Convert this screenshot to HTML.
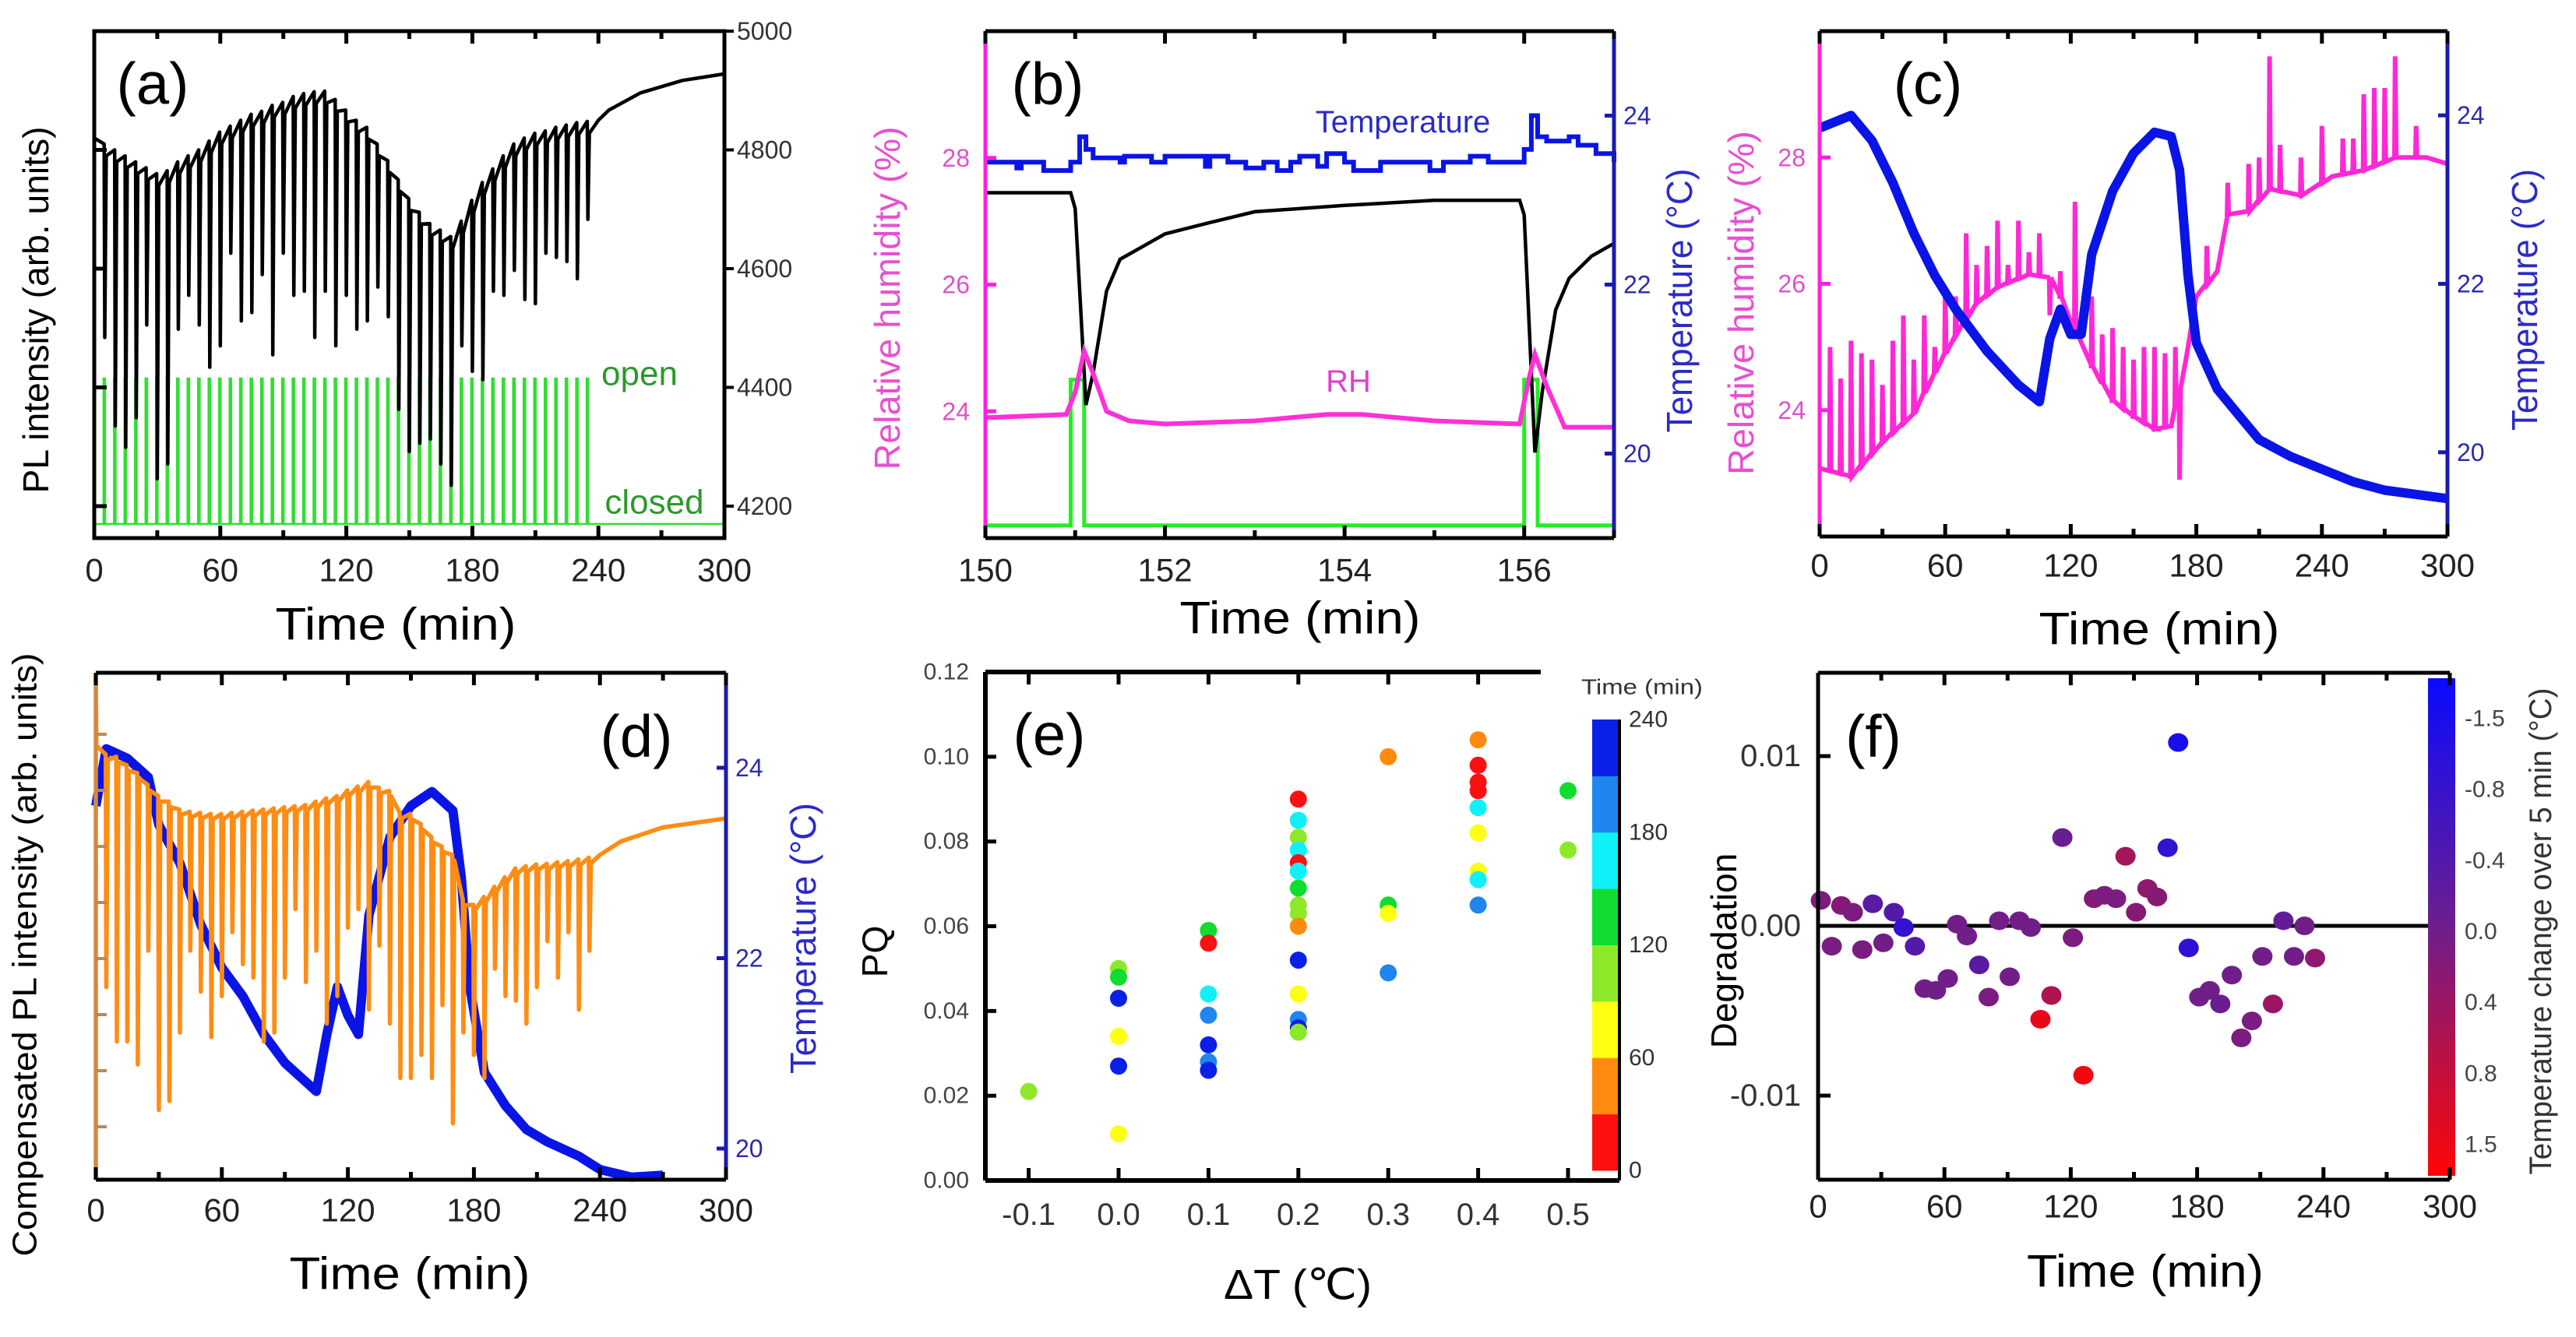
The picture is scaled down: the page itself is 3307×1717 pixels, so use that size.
<!DOCTYPE html>
<html><head><meta charset="utf-8"><style>
html,body{margin:0;padding:0;background:#fff;}
svg{display:block;font-family:"Liberation Sans",sans-serif;}
</style></head><body>
<svg id="fig" xmlns="http://www.w3.org/2000/svg" width="3307" height="1717" viewBox="0 0 3307 1717">
<rect x="0" y="0" width="3307" height="1717" fill="#fff"/>
<g id="pa"></g>
<g id="pb"></g>
<g id="pc"></g>
<g id="pd"></g>
<g id="pe"></g>
<g id="pf"></g>
<text x="196" y="108" font-size="76" text-anchor="middle" dominant-baseline="central">(a)</text>
<text x="1345" y="108" font-size="76" text-anchor="middle" dominant-baseline="central">(b)</text>
<text x="2475" y="108" font-size="76" text-anchor="middle" dominant-baseline="central">(c)</text>
<text x="817" y="946" font-size="76" text-anchor="middle" dominant-baseline="central">(d)</text>
<text x="1347" y="944" font-size="76" text-anchor="middle" dominant-baseline="central">(e)</text>
<text x="2405" y="946" font-size="76" text-anchor="middle" dominant-baseline="central">(f)</text>

<text x="508" y="802" font-size="58" text-anchor="middle" dominant-baseline="central" textLength="309" lengthAdjust="spacingAndGlyphs">Time (min)</text>
<text x="1669" y="794" font-size="58" text-anchor="middle" dominant-baseline="central" textLength="309" lengthAdjust="spacingAndGlyphs">Time (min)</text>
<text x="2772" y="808" font-size="58" text-anchor="middle" dominant-baseline="central" textLength="309" lengthAdjust="spacingAndGlyphs">Time (min)</text>
<text x="526" y="1636" font-size="58" text-anchor="middle" dominant-baseline="central" textLength="309" lengthAdjust="spacingAndGlyphs">Time (min)</text>
<text x="1666" y="1650" font-size="54" text-anchor="middle" dominant-baseline="central" textLength="190" lengthAdjust="spacingAndGlyphs">ΔT (℃)</text>
<text x="2754" y="1633" font-size="58" text-anchor="middle" dominant-baseline="central" textLength="304" lengthAdjust="spacingAndGlyphs">Time (min)</text>

<text transform="translate(46,398) rotate(-90)" font-size="46" text-anchor="middle" dominant-baseline="central" textLength="471" lengthAdjust="spacingAndGlyphs">PL intensity (arb. units)</text>
<text transform="translate(1139,383) rotate(-90)" font-size="46" fill="#e650d2" text-anchor="middle" dominant-baseline="central" textLength="441" lengthAdjust="spacingAndGlyphs">Relative humidity (%)</text>
<text transform="translate(2156,386) rotate(-90)" font-size="46" fill="#2a2ac8" text-anchor="middle" dominant-baseline="central" textLength="339" lengthAdjust="spacingAndGlyphs">Temperature (°C)</text>
<text transform="translate(2235,389) rotate(-90)" font-size="46" fill="#e650d2" text-anchor="middle" dominant-baseline="central" textLength="442" lengthAdjust="spacingAndGlyphs">Relative humidity (%)</text>
<text transform="translate(3241,385) rotate(-90)" font-size="46" fill="#2a2ac8" text-anchor="middle" dominant-baseline="central" textLength="336" lengthAdjust="spacingAndGlyphs">Temperature (°C)</text>
<text transform="translate(32,1226) rotate(-90)" font-size="44" text-anchor="middle" dominant-baseline="central" textLength="775" lengthAdjust="spacingAndGlyphs">Compensated PL intensity (arb. units)</text>
<text transform="translate(1031,1205) rotate(-90)" font-size="46" fill="#2a2ac8" text-anchor="middle" dominant-baseline="central" textLength="348" lengthAdjust="spacingAndGlyphs">Temperature (°C)</text>
<text transform="translate(1123,1222) rotate(-90)" font-size="46" text-anchor="middle" dominant-baseline="central">PQ</text>
<text transform="translate(2213,1221) rotate(-90)" font-size="46" text-anchor="middle" dominant-baseline="central">Degradation</text>
<text transform="translate(3262,1196) rotate(-90)" font-size="40" fill="#333" text-anchor="middle" dominant-baseline="central" textLength="625" lengthAdjust="spacingAndGlyphs">Temperature change over 5 min (°C)</text>
<text x="2108" y="882" font-size="28" fill="#333" text-anchor="middle" dominant-baseline="central" textLength="156" lengthAdjust="spacingAndGlyphs">Time (min)</text>

<text x="821" y="480" font-size="44" fill="#2a9a2a" text-anchor="middle" dominant-baseline="central">open</text>
<text x="840" y="645" font-size="44" fill="#2a9a2a" text-anchor="middle" dominant-baseline="central">closed</text>
<text x="1801" y="157" font-size="40" fill="#2a2ac8" text-anchor="middle" dominant-baseline="central">Temperature</text>
<text x="1731" y="490" font-size="40" fill="#e040c8" text-anchor="middle" dominant-baseline="central">RH</text>
</svg>
<script>
// ================= DATA =================
// Panel (a)
const aCycleT = [5,10,15,20,25,30,35,40,45,50,55,60,65,70,75,80,85,90,95,100,105,110,115,120,125,130,135,140,145,150,155,160,165,170,175,180,185,190,195,200,205,210,215,220,225,230,235];
const aPeak = [4810,4800,4790,4780,4770,4760,4765,4780,4790,4800,4815,4830,4840,4850,4860,4865,4875,4880,4890,4895,4898,4899,4885,4867,4850,4838,4810,4782,4750,4718,4695,4676,4665,4654,4680,4715,4745,4768,4790,4810,4820,4828,4832,4838,4842,4846,4848];
const aDip = [4484,4335,4299,4349,4505,4246,4271,4498,4555,4505,4434,4470,4626,4512,4526,4590,4455,4626,4555,4562,4484,4562,4470,4555,4498,4512,4569,4519,4363,4292,4306,4313,4271,4235,4470,4427,4413,4562,4555,4597,4548,4541,4626,4619,4612,4583,4683];
const aTailT = [0,240,245,260,280,300];
const aTailV = [4820,4850,4867,4896,4917,4928];
const aRightTicks = [4200,4400,4600,4800,5000];
const shutterLevels = [4170,4415];

// Panel (b)
const bTempT = [150,150.35,150.4,150.65,150.95,151.05,151.12,151.2,151.5,151.55,151.85,152.0,152.45,152.5,152.7,152.9,153.1,153.25,153.4,153.5,153.7,153.8,154.0,154.1,154.4,154.7,154.95,155.1,155.4,155.6,155.9,156.0,156.08,156.15,156.25,156.5,156.6,156.8,157];
const bTempV = [23.45,23.38,23.45,23.35,23.45,23.75,23.6,23.5,23.45,23.52,23.45,23.52,23.4,23.52,23.45,23.38,23.45,23.35,23.45,23.52,23.4,23.55,23.45,23.35,23.45,23.45,23.35,23.45,23.52,23.45,23.45,23.6,24.0,23.75,23.7,23.75,23.65,23.55,23.45];
const bPLT = [150,150.95,151.0,151.12,151.2,151.35,151.5,151.75,152,152.5,153,154,155,155.95,156.0,156.12,156.2,156.35,156.5,156.75,157];
const bPLV = [27.45,27.45,27.2,24.1,24.6,25.9,26.4,26.6,26.8,26.98,27.15,27.25,27.33,27.33,27.1,23.35,24.3,25.6,26.1,26.45,26.65];
const bRHT = [150,150.9,151.0,151.1,151.2,151.35,151.6,152,153,153.8,154.2,155,155.95,156.05,156.12,156.25,156.45,157];
const bRHV = [23.9,23.95,24.3,24.95,24.6,24.0,23.85,23.8,23.85,23.95,23.95,23.85,23.8,24.5,24.9,24.4,23.75,23.75];
const bOpenStart = [150.95,156.0];
const bOpenEnd = [151.1,156.15];
const bShutter = [22.2,24.5];
const bXTicks = [150,152,154,156];
const rhTicks = [24,26,28];
const tempTicks = [20,22,24];

// Panel (c)
const cTempT = [0,15,25,35,45,55,65,80,95,105,110,115,120,125,130,140,150,160,168,172,176,180,190,200,210,225,240,255,270,285,300];
const cTempV = [23.85,24.0,23.7,23.2,22.6,22.1,21.7,21.2,20.8,20.6,21.35,21.7,21.4,21.4,22.35,23.1,23.55,23.8,23.75,23.35,22.1,21.3,20.75,20.45,20.15,19.95,19.8,19.65,19.55,19.5,19.45];
const cRHT = [0,15,30,45,55,65,75,85,100,110,115,120,130,140,150,160,168,175,180,190,195,205,215,230,245,260,275,290,300];
const cRHV = [23.08,22.95,23.5,23.95,24.6,25.2,25.7,25.95,26.15,26.1,25.8,25.4,24.7,24.15,23.9,23.7,23.75,24.8,25.8,26.2,27.1,27.15,27.5,27.4,27.7,27.8,28.0,28.0,27.9];
const cSpikeT = [5,10,15,20,25,30,35,40,45,50,55,60,65,70,75,80,85,90,95,100,105,110,115,122,130,135,140,145,150,155,160,165,170,172,185,195,205,210,215,220,230,240,250,255,260,265,270,275,285];
const cSpikeV = [25.0,24.5,25.1,24.9,24.8,24.4,25.1,25.5,24.8,25.5,25.0,25.9,25.8,26.8,26.3,26.6,27.0,26.3,27.0,26.5,26.8,25.5,26.2,27.3,25.8,25.2,25.3,25.0,24.8,25.0,25.0,24.9,25.0,22.9,26.6,27.6,27.9,28.0,29.6,28.2,28.0,28.5,28.3,28.3,29.0,29.1,29.1,29.6,28.5];
const timeTicks = [0,60,120,180,240,300];

// Panel (d)
const dPeak = [7.64,7.6,7.45,7.31,7.1,6.9,6.8,6.66,6.62,6.6,6.58,6.58,6.6,6.62,6.64,6.66,6.68,6.7,6.72,6.74,6.8,6.86,6.9,7.0,7.07,7.15,7.05,6.99,6.6,6.58,6.4,6.17,6.0,5.85,5.05,4.96,5.1,5.28,5.45,5.61,5.65,5.68,5.69,5.72,5.74,5.77,5.8];
const dDip = [3.49,2.52,2.52,2.11,4.14,1.3,1.46,2.68,4.14,3.41,2.6,3.33,4.47,3.9,3.66,2.52,2.68,3.66,4.88,3.58,4.14,2.84,3.33,4.55,4.88,3.09,4.23,2.84,1.87,1.87,2.28,1.87,3.17,1.06,2.68,2.28,1.87,3.82,3.33,3.25,2.84,3.49,4.31,3.66,4.47,3.09,4.14];
const dTailT = [0,240,250,270,300];
const dTailV = [7.8,5.85,6.09,6.34,6.5];
const dTempT = [0,5,15,25,30,40,50,60,70,80,90,100,105,110,115,120,125,130,140,150,160,170,174,178,185,195,205,215,230,240,255,270];
const dTempV = [23.6,24.2,24.1,23.9,23.4,23.0,22.35,21.9,21.6,21.2,20.9,20.7,20.6,21.2,21.7,21.4,21.2,22.45,23.27,23.6,23.75,23.55,22.85,21.7,20.8,20.45,20.2,20.07,19.92,19.78,19.7,19.72];
const dLeftTicks = [1,2,3,4,5,6,7,8];
const dTempTicks = [20,22,24];

// Panel (e)
const eDT = [-0.1, 0,0,0,0,0,0, 0.1,0.1,0.1,0.1,0.1,0.1,0.1, 0.2,0.2,0.2,0.2,0.2,0.2,0.2,0.2,0.2,0.2,0.2,0.2,0.2,0.2,0.2, 0.3,0.3,0.3,0.3, 0.4,0.4,0.4,0.4,0.4,0.4,0.4,0.4,0.4, 0.5,0.5];
const ePQ = [0.021, 0.050,0.048,0.043,0.034,0.027,0.011, 0.059,0.056,0.044,0.039,0.032,0.028,0.026, 0.090,0.085,0.081,0.078,0.075,0.073,0.069,0.065,0.063,0.060,0.052,0.044,0.038,0.036,0.035, 0.100,0.065,0.063,0.049, 0.104,0.098,0.094,0.092,0.088,0.082,0.073,0.071,0.065, 0.092,0.078];
const eTime = [105, 105,135,225,75,225,75, 135,15,165,195,225,195,225, 15,165,105,165,15,165,135,105,105,45,225,75,195,225,105, 45,135,75,195, 45,15,15,15,165,75,75,165,195, 135,105];
const eXTicks = [-0.1,0.0,0.1,0.2,0.3,0.4,0.5];
const eYTicks = [0.00,0.02,0.04,0.06,0.08,0.10,0.12];
const eCbTicks = [0,60,120,180,240];
const eBandColors = ['#ff1010','#ff8a10','#ffff10','#8ee82a','#10dd30','#10f0f8','#1e86ee','#0a20e6'];

// Panel (f)
const fT = [1.3,6.5,11,16.5,21,26,31,36,40.6,46,50.6,56,61.6,66,70.7,76.5,81,86,91,95.6,101,105.6,110.8,116,121,126,131,136,141.5,146,151,156.4,161,166,171,176,181,186,191,196.5,201,206,211,216,221,226,231,236];
const fDeg = [0.0015,-0.0012,0.0012,0.0008,-0.0014,0.0013,-0.0010,0.0008,-0.0001,-0.0012,-0.0037,-0.0038,-0.0031,0.0001,-0.0006,-0.0023,-0.0042,0.0003,-0.0030,0.0003,-0.0001,-0.0055,-0.0041,0.0052,-0.0007,-0.0088,0.0016,0.0018,0.0016,0.0041,0.0008,0.0022,0.0017,0.0046,0.0108,-0.0013,-0.0042,-0.0038,-0.0046,-0.0029,-0.0066,-0.0056,-0.0018,-0.0046,0.0003,-0.0018,0.0000,-0.0019];
const fTC = [0.1,0.1,0.2,0.1,0.1,-0.3,0,-0.4,-0.9,-0.4,0,0,0,0,0,-0.3,0.1,0,0,0,0,1.4,0.6,-0.1,0.1,1.6,0.2,0.1,0.1,0.5,0.2,0.3,0.2,-0.9,-1.5,-1.0,0,0,-0.1,0,0.1,0.1,0,0.4,-0.2,0,0,0.3];
const fYTicks = [-0.01,0.00,0.01];
const fYTickLabels = ['-0.01','0.00','0.01'];
const fCbTicks = [-1.5,-0.8,-0.4,0.0,0.4,0.8,1.5];
const fCbTickLabels = ['-1.5','-0.8','-0.4','0.0','0.4','0.8','1.5'];

// ================= HELPERS =================
const NS = 'http://www.w3.org/2000/svg';
function mk(tag, attrs, parent){ const e=document.createElementNS(NS,tag); for(const k in attrs) e.setAttribute(k,attrs[k]); parent.appendChild(e); return e; }
function lin(d0,d1,r0,r1){ return v => r0 + (v-d0)*(r1-r0)/(d1-d0); }
function pathOf(pts){ return pts.map((p,i)=>(i?'L':'M')+p[0].toFixed(1)+' '+p[1].toFixed(1)).join(''); }
function interp(ts, vs, t){ if(t<=ts[0]) return vs[0]; for(let i=1;i<ts.length;i++){ if(t<=ts[i]){ const f=(t-ts[i-1])/(ts[i]-ts[i-1]); return vs[i-1]+f*(vs[i]-vs[i-1]); } } return vs[vs.length-1]; }
function tickLabel(g, x, y, txt, size, fill, anchor){ const t=mk('text',{x:x,y:y,'font-size':size,fill:fill,'text-anchor':anchor,'dominant-baseline':'central'},g); t.textContent=txt; return t; }

const pa=document.getElementById('pa'), pb=document.getElementById('pb'), pc=document.getElementById('pc'),
      pd=document.getElementById('pd'), pe=document.getElementById('pe'), pf=document.getElementById('pf');

function timeAxis(g, sx, y0, y1, ticks, minorStep, lo, hi, labelY, name){
  for(let v=lo; v<=hi+1e-9; v+=minorStep){
    const major = ticks.some(t=>Math.abs(t-v)<1e-6);
    const L = major?16:10;
    const b=mk('line',{x1:sx(v),x2:sx(v),y1:y1,y2:y1-L,stroke:'#000','stroke-width':5},g);
    
    
    const t=mk('line',{x1:sx(v),x2:sx(v),y1:y0,y2:y0+L,stroke:'#000','stroke-width':5},g);
    
    
  }
  ticks.forEach(v=>{
    const l=tickLabel(g, sx(v), labelY, String(v), 42, '#222', 'middle');
    
    
  });
}

// ================= PANEL A =================
(function(){
  const X0=121,X1=930,Y0=40,Y1=691;
  const sx=lin(0,300,X0,X1), sy=lin(4200,5000,650,40);
  let sp=[[sx(0),sy(shutterLevels[0])]];
  aCycleT.forEach(t=>{
    sp.push([sx(t-0.6),sy(shutterLevels[0])]); sp.push([sx(t-0.6),sy(shutterLevels[1])]);
    sp.push([sx(t+0.2),sy(shutterLevels[1])]); sp.push([sx(t+0.2),sy(shutterLevels[0])]);
  });
  sp.push([sx(300),sy(shutterLevels[0])]);
  const sh=mk('path',{d:pathOf(sp),fill:'none',stroke:'#33dd33','stroke-width':2.5},pa);
  
  
  let pts=[[sx(aTailT[0]),sy(aTailV[0])]];
  aCycleT.forEach((t,i)=>{
    pts.push([sx(t-0.3),sy(aPeak[i])]);
    pts.push([sx(t),sy(aDip[i])]);
    pts.push([sx(t+0.7),sy(aPeak[i]-20)]);
  });
  for(let i=1;i<aTailT.length;i++) pts.push([sx(aTailT[i]),sy(aTailV[i])]);
  const pl=mk('path',{d:pathOf(pts),fill:'none',stroke:'#000','stroke-width':4.5,'stroke-linejoin':'round'},pa);
  
  
  const fr=mk('rect',{x:X0,y:Y0,width:X1-X0,height:Y1-Y0,fill:'none',stroke:'#000','stroke-width':5},pa);
  
  
  timeAxis(pa,sx,Y0,Y1,timeTicks,30,0,300,732,'a');
  aRightTicks.forEach(v=>{
    const t=mk('line',{x1:X1,x2:X1+12,y1:sy(v),y2:sy(v),stroke:'#000','stroke-width':4},pa);
    
    
    if(v<5000){ const li=mk('line',{x1:X0,x2:X0+16,y1:sy(v),y2:sy(v),stroke:'#000','stroke-width':5},pa);
      
       }
    const l=tickLabel(pa,X1+16,sy(v),String(v),32,'#333','start');
    
    
  });
})();

// ================= PANEL B =================
(function(){
  const X0=1265,X1=2072,Y0=40,Y1=691;
  const sx=lin(150,157,X0,X1), sr=lin(22,30,Y1,Y0), st=lin(19,25,Y1,Y0);
  let sp=[[sx(150),sr(bShutter[0])]];
  bOpenStart.forEach((s,i)=>{ sp.push([sx(s),sr(bShutter[0])],[sx(s),sr(bShutter[1])],[sx(bOpenEnd[i]),sr(bShutter[1])],[sx(bOpenEnd[i]),sr(bShutter[0])]); });
  sp.push([sx(157),sr(bShutter[0])]);
  const sh=mk('path',{d:pathOf(sp),fill:'none',stroke:'#22ee22','stroke-width':5},pb);
  
  
  const pl=mk('path',{d:pathOf(bPLT.map((t,i)=>[sx(t),sr(bPLV[i])])),fill:'none',stroke:'#000','stroke-width':4.5},pb);
  
  
  const rh=mk('path',{d:pathOf(bRHT.map((t,i)=>[sx(t),sr(bRHV[i])])),fill:'none',stroke:'#ff30d8','stroke-width':6},pb);
  
  
  let tp=[];
  bTempT.forEach((t,i)=>{ if(i>0) tp.push([sx(t),st(bTempV[i-1])]); tp.push([sx(t),st(bTempV[i])]); });
  const tl=mk('path',{d:pathOf(tp),fill:'none',stroke:'#0a14e6','stroke-width':6},pb);
  
  
  const top=mk('line',{x1:X0,x2:X1,y1:Y0,y2:Y0,stroke:'#000','stroke-width':5},pb);
   
  const bot=mk('line',{x1:X0,x2:X1,y1:Y1,y2:Y1,stroke:'#000','stroke-width':5},pb);
   
  const la=mk('line',{x1:X0,x2:X0,y1:Y0,y2:Y1,stroke:'#ff20e0','stroke-width':5},pb);
   
  const ra=mk('line',{x1:X1,x2:X1,y1:Y0,y2:Y1,stroke:'#1a1ab0','stroke-width':5},pb);
   
  timeAxis(pb,sx,Y0,Y1,bXTicks,1,150,157,732,'b');
  rhTicks.forEach(v=>{
    const t=mk('line',{x1:X0,x2:X0+14,y1:sr(v),y2:sr(v),stroke:'#ff20e0','stroke-width':5},pb);
     
    const l=tickLabel(pb,X0-20,sr(v),String(v),32,'#e050c8','end');
     
  });
  tempTicks.forEach(v=>{
    const t=mk('line',{x1:X1-12,x2:X1,y1:st(v),y2:st(v),stroke:'#1a1ab0','stroke-width':5},pb);
     
    const l=tickLabel(pb,X1+12,st(v),String(v),32,'#2a2ab0','start');
     
  });
})();

// ================= PANEL C =================
(function(){
  const X0=2336,X1=3142,Y0=40,Y1=689;
  const sx=lin(0,300,X0,X1), sr=lin(22,30,Y1,Y0), st=lin(19,25,Y1,Y0);
  let pts=[]; let si=0;
  cRHT.forEach((t,i)=>{
    while(si<cSpikeT.length && cSpikeT[si]<t){
      const ts=cSpikeT[si], b=interp(cRHT,cRHV,ts);
      pts.push([sx(ts-0.3),sr(b)],[sx(ts),sr(cSpikeV[si])],[sx(ts+0.5),sr(b)]); si++;
    }
    pts.push([sx(t),sr(cRHV[i])]);
  });
  const rh=mk('path',{d:pathOf(pts),fill:'none',stroke:'#ff28d6','stroke-width':6},pc);
   
  const tl=mk('path',{d:pathOf(cTempT.map((t,i)=>[sx(t),st(cTempV[i])])),fill:'none',stroke:'#0a14e6','stroke-width':12,'stroke-linejoin':'round'},pc);
   
  const top=mk('line',{x1:X0,x2:X1,y1:Y0,y2:Y0,stroke:'#000','stroke-width':5},pc);
   
  const bot=mk('line',{x1:X0,x2:X1,y1:Y1,y2:Y1,stroke:'#000','stroke-width':5},pc);
   
  const la=mk('line',{x1:X0,x2:X0,y1:Y0,y2:Y1,stroke:'#ff20e0','stroke-width':5},pc);
   
  const ra=mk('line',{x1:X1,x2:X1,y1:Y0,y2:Y1,stroke:'#1a1ab0','stroke-width':5},pc);
   
  timeAxis(pc,sx,Y0,Y1,timeTicks,30,0,300,726,'c');
  rhTicks.forEach(v=>{
    const t=mk('line',{x1:X0,x2:X0+14,y1:sr(v),y2:sr(v),stroke:'#ff20e0','stroke-width':5},pc);
     
    const l=tickLabel(pc,X0-18,sr(v),String(v),32,'#e050c8','end');
     
  });
  tempTicks.forEach(v=>{
    const t=mk('line',{x1:X1-12,x2:X1,y1:st(v),y2:st(v),stroke:'#1a1ab0','stroke-width':5},pc);
     
    const l=tickLabel(pc,X1+12,st(v),String(v),32,'#2a2ab0','start');
     
  });
})();

// ================= PANEL D =================
(function(){
  const X0=123,X1=932,Y0=864,Y1=1515;
  const sx=lin(0,300,X0,X1), sl=lin(1,8,1447,943), st=lin(20,24,1475,986);
  const tl=mk('path',{d:pathOf(dTempT.map((t,i)=>[sx(t),st(dTempV[i])])),fill:'none',stroke:'#0a14e6','stroke-width':12,'stroke-linejoin':'round'},pd);
   
  let pts=[[sx(0),Y1],[sx(0),Y0+4],[sx(0.3),sl(dTailV[0])]];
  aCycleT.forEach((t,i)=>{
    pts.push([sx(t-0.3),sl(dPeak[i])]);
    pts.push([sx(t),sl(dDip[i])]);
    pts.push([sx(t+0.7),sl(dPeak[i]-0.1)]);
  });
  for(let i=1;i<dTailT.length;i++) pts.push([sx(dTailT[i]),sl(dTailV[i])]);
  const ol=mk('path',{d:pathOf(pts),fill:'none',stroke:'#ff8c14','stroke-width':5.5,'stroke-linejoin':'round'},pd);
   
  const top=mk('line',{x1:X0,x2:X1,y1:Y0,y2:Y0,stroke:'#000','stroke-width':5},pd);
   
  const bot=mk('line',{x1:X0,x2:X1,y1:Y1,y2:Y1,stroke:'#000','stroke-width':5},pd);
   
  const la=mk('line',{x1:X0,x2:X0,y1:Y0,y2:Y1,stroke:'#d08a40','stroke-width':5},pd);
   
  const ra=mk('line',{x1:X1,x2:X1,y1:Y0,y2:Y1,stroke:'#1a1ab0','stroke-width':5},pd);
   
  timeAxis(pd,sx,Y0,Y1,timeTicks,30,0,300,1554,'d');
  dLeftTicks.forEach(v=>{
    const t=mk('line',{x1:X0,x2:X0+14,y1:sl(v),y2:sl(v),stroke:'#c08850','stroke-width':4},pd);
     
  });
  dTempTicks.forEach(v=>{
    const t=mk('line',{x1:X1-12,x2:X1,y1:st(v),y2:st(v),stroke:'#1a1ab0','stroke-width':5},pd);
     
    const l=tickLabel(pd,X1+12,st(v),String(v),32,'#2a2ab0','start');
     
  });
})();

// ================= PANEL E =================
(function(){
  const X0=1265,Y0=863,Y1=1516;
  const sx=lin(0,0.5,1436,2013), sy=lin(0,0.12,Y1,Y0);
  const cbY=lin(0,240,1503,924);
  eBandColors.forEach((c,i)=>{
    const r=mk('rect',{x:2044,y:cbY((i+1)*30),width:33,height:cbY(i*30)-cbY((i+1)*30)+0.5,fill:c},pe);
     
  });
  eCbTicks.forEach(v=>{
    const l=tickLabel(pe,2091,cbY(v),String(v),30,'#333','start');
     
  });
  const cbt=mk('line',{x1:2079,x2:2079,y1:924,y2:1516,stroke:'#000','stroke-width':4},pe);
   
  eDT.forEach((d,i)=>{
    const band=Math.min(7,Math.floor(eTime[i]/30));
    const c=mk('circle',{cx:sx(d),cy:sy(ePQ[i]),r:11,fill:eBandColors[band]},pe);
     
  });
  const top=mk('line',{x1:X0,x2:1978,y1:Y0,y2:Y0,stroke:'#000','stroke-width':6},pe);
   
  const bot=mk('line',{x1:X0,x2:2079,y1:Y1,y2:Y1,stroke:'#000','stroke-width':6},pe);
   
  const la=mk('line',{x1:X0,x2:X0,y1:Y0,y2:Y1,stroke:'#000','stroke-width':6},pe);
   
  eXTicks.forEach(v=>{
    const b=mk('line',{x1:sx(v),x2:sx(v),y1:Y1,y2:Y1-16,stroke:'#000','stroke-width':5},pe);
     
    if(v<0.45){ const t=mk('line',{x1:sx(v),x2:sx(v),y1:Y0,y2:Y0+16,stroke:'#000','stroke-width':5},pe);
        }
    const l=tickLabel(pe,sx(v),1560,v.toFixed(1),40,'#333','middle');
     
  });
  eYTicks.forEach(v=>{
    const t=mk('line',{x1:X0,x2:X0+14,y1:sy(v),y2:sy(v),stroke:'#000','stroke-width':5},pe);
     
    const l=tickLabel(pe,1244,sy(v),v.toFixed(2),30,'#444','end');
     
  });
})();

// ================= PANEL F =================
(function(){
  const X0=2334,X1=3145,Y0=864,Y1=1515;
  const sx=lin(0,300,X0,X1), sy=lin(0,0.01,1189,971);
  const cbTop=871, cbBot=1510;
  function cbPos(v){
    const n=fCbTicks.length; let idx;
    if(v<=fCbTicks[0]) idx=(v-fCbTicks[0])/(fCbTicks[1]-fCbTicks[0]);
    else if(v>=fCbTicks[n-1]) idx=n-1+(v-fCbTicks[n-1])/(fCbTicks[n-1]-fCbTicks[n-2]);
    else { for(let i=1;i<n;i++){ if(v<=fCbTicks[i]){ idx=i-1+(v-fCbTicks[i-1])/(fCbTicks[i]-fCbTicks[i-1]); break; } } }
    return 923 + idx*(1470-923)/(n-1);
  }
  function colAt(y){
    const g=Math.max(0,Math.min(1,(y-cbTop)/(cbBot-cbTop)));
    const a=[10,10,255], m=[110,30,140], b=[255,5,5];
    let c;
    if(g<0.5){ const f=g/0.5; c=a.map((x,i)=>x+(m[i]-x)*f); } else { const f=(g-0.5)/0.5; c=m.map((x,i)=>x+(b[i]-x)*f); }
    return 'rgb('+c.map(Math.round).join(',')+')';
  }
  const defs=mk('defs',{},pf);
  const lg=mk('linearGradient',{id:'fgrad',x1:0,y1:0,x2:0,y2:1},defs);
  mk('stop',{offset:'0','stop-color':'rgb(10,10,255)'},lg);
  mk('stop',{offset:'0.5','stop-color':'rgb(110,30,140)'},lg);
  mk('stop',{offset:'1','stop-color':'rgb(255,5,5)'},lg);
  const cb=mk('rect',{x:3117,y:cbTop,width:35,height:cbBot-cbTop,fill:'url(#fgrad)'},pf);
   
  fCbTicks.forEach((v,i)=>{
    const l=tickLabel(pf,3164,cbPos(v),fCbTickLabels[i],30,'#444','start');
     
  });
  const zl=mk('line',{x1:X0,x2:3117,y1:sy(0),y2:sy(0),stroke:'#000','stroke-width':5},pf);
   
  fT.forEach((t,i)=>{
    const c=mk('ellipse',{cx:sx(t),cy:sy(fDeg[i]),rx:13,ry:12,fill:colAt(cbPos(fTC[i]))},pf);
     
  });
  const top=mk('line',{x1:X0,x2:X1,y1:Y0,y2:Y0,stroke:'#000','stroke-width':5},pf);
   
  const bot=mk('line',{x1:X0,x2:X1,y1:Y1,y2:Y1,stroke:'#000','stroke-width':5},pf);
   
  const la=mk('line',{x1:X0,x2:X0,y1:Y0,y2:Y1,stroke:'#000','stroke-width':5},pf);
   
  timeAxis(pf,sx,Y0,Y1,timeTicks,30,0,300,1549,'f');
  fYTicks.forEach((v,i)=>{
    const t=mk('line',{x1:X0,x2:X0+16,y1:sy(v),y2:sy(v),stroke:'#000','stroke-width':5},pf);
     
    const l=tickLabel(pf,X0-22,sy(v),fYTickLabels[i],40,'#333','end');
     
  });
})();
</script>
</body></html>
